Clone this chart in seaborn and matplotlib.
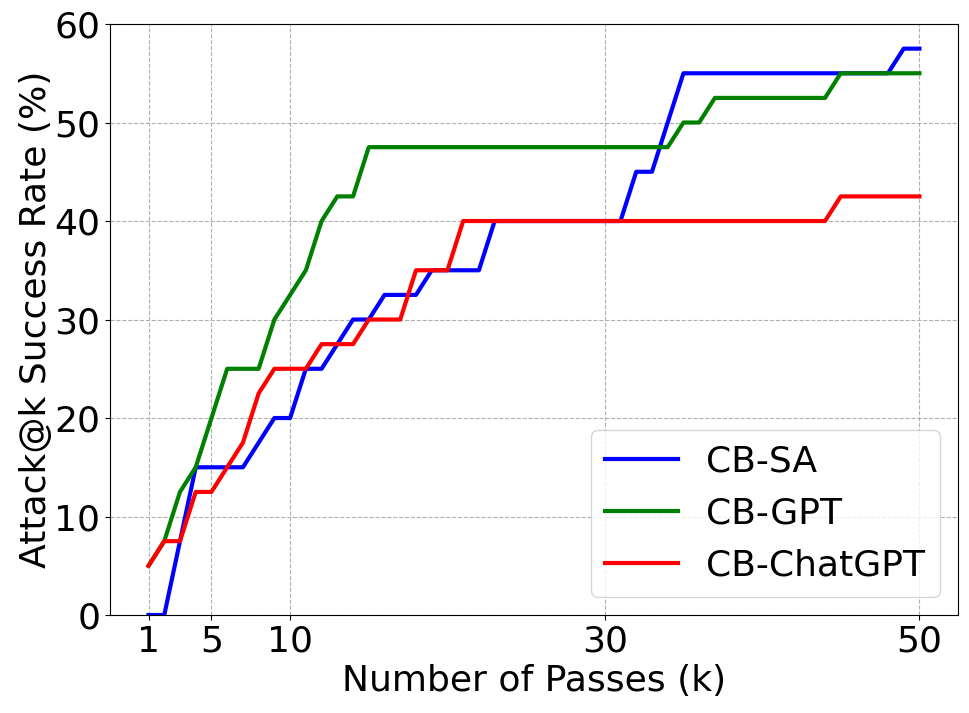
import matplotlib
matplotlib.use("Agg")
import matplotlib.pyplot as plt
import seaborn as sns
import pandas as pd

# aantal passes k = 1..50
k_values = list(range(1, 51))

cb_sa = [0, 0, 7.5, 15, 15, 15, 15, 17.5, 20, 20,
         25, 25, 27.5, 30, 30, 32.5, 32.5, 32.5, 35, 35,
         35, 35, 40, 40, 40, 40, 40, 40, 40, 40,
         40, 45, 45, 50, 55, 55, 55, 55, 55, 55,
         55, 55, 55, 55, 55, 55, 55, 55, 57.5, 57.5]

cb_gpt = [5, 7.5, 12.5, 15, 20, 25, 25, 25, 30, 32.5,
          35, 40, 42.5, 42.5, 47.5, 47.5, 47.5, 47.5, 47.5, 47.5,
          47.5, 47.5, 47.5, 47.5, 47.5, 47.5, 47.5, 47.5, 47.5, 47.5,
          47.5, 47.5, 47.5, 47.5, 50, 50, 52.5, 52.5, 52.5, 52.5,
          52.5, 52.5, 52.5, 52.5, 55, 55, 55, 55, 55, 55]

cb_chatgpt = [5, 7.5, 7.5, 12.5, 12.5, 15, 17.5, 22.5, 25, 25,
              25, 27.5, 27.5, 27.5, 30, 30, 30, 35, 35, 35,
              40, 40, 40, 40, 40, 40, 40, 40, 40, 40,
              40, 40, 40, 40, 40, 40, 40, 40, 40, 40,
              40, 40, 40, 40, 42.5, 42.5, 42.5, 42.5, 42.5, 42.5]

series_names = ["CB-SA", "CB-GPT", "CB-ChatGPT"]
series_colors = ["blue", "green", "red"]
x_ticks = [1, 5, 10, 30, 50]

df = pd.DataFrame({
    "k": k_values * 3,
    "rate": cb_sa + cb_gpt + cb_chatgpt,
    "method": [series_names[0]] * 50 + [series_names[1]] * 50 + [series_names[2]] * 50,
})

fig, ax = plt.subplots(figsize=(9.69, 7.13), dpi=100)
fig.subplots_adjust(left=0.1135, right=0.9886, top=0.9663, bottom=0.1374)

sns.lineplot(data=df, x="k", y="rate", hue="method", hue_order=series_names,
             palette=series_colors, linewidth=3, ax=ax)

ax.set_ylim(0, 60)
ax.set_xticks(x_ticks)
ax.grid(True, linestyle="--", color="#b0b0b0", linewidth=0.8)
ax.tick_params(labelsize=26)
ax.set_xlabel("Number of Passes (k)", fontsize=26, labelpad=4)
ax.set_ylabel("Attack@k Success Rate (%)", fontsize=26, labelpad=1)
ax.legend(loc="lower right", fontsize=26, title=None)

fig.savefig("out.png", dpi=100)
